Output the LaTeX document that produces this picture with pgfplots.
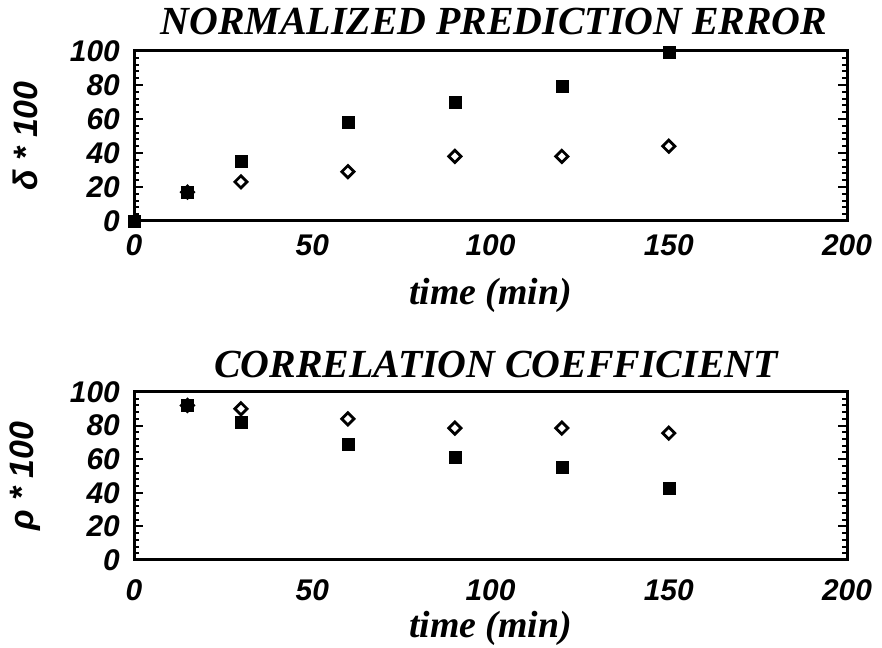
\documentclass[border=0pt]{standalone}
\usepackage{pgfplots}
\pgfplotsset{compat=1.18}
\usepackage{fontspec}
\setmainfont{Liberation Serif}
\newfontfamily\sansf{Liberation Sans}
\pgfplotstableread{
x y
0 0
15 17
30 35
60 58
90 70
120 79
150 99
}\errsq
\pgfplotstableread{
x y
15 17
30 23
60 29
90 38
120 38
150 44
}\errdi
\pgfplotstableread{
x y
15 92
30 82
60 69
90 61
120 55
150 43
}\corsq
\pgfplotstableread{
x y
15 92
30 90
60 84
90 78.5
120 78.5
150 75.5
}\cordi
\pgfplotsset{
  myax/.style={
    scale only axis, width=713bp,
    xmin=0, xmax=200, ymin=0, ymax=100,
    xtick={0,50,100,150,200},
    ytick={0,20,40,60,80,100},
    minor y tick num=4,
    axis line style={line width=3bp},
    every tick/.style={black, line width=2bp},
    major tick length=9bp, minor tick length=5bp,
    x tick style={draw=none},
    /pgf/number format/assume math mode=true,
    ticklabel style={font=\sansf\bfseries\itshape\fontsize{30}{32}\selectfont, inner sep=0pt},
    xticklabel style={anchor=center},
    yticklabel style={anchor=east, xshift=-14bp},
    xlabel style={font=\bfseries\itshape\fontsize{38}{42}\selectfont, anchor=center},
    ylabel style={font=\sansf\bfseries\itshape\fontsize{34}{38}\selectfont, anchor=center, at={(axis description cs:-0.153,0.5)}},
    xlabel={time (min)},
    clip=false,
  },
  sq/.style={only marks, mark=square*, mark size=6bp, black, mark options={fill=black}},
  di/.style={only marks, mark=square, mark size=4.3bp, black, mark options={line width=2.8bp, rotate=45}},
}
\begin{document}
\begin{tikzpicture}[x=1bp,y=1bp]
\path[use as bounding box] (0,0) rectangle (882,648);
\begin{axis}[myax, at={(134bp,427bp)}, anchor=south west, height=170bp,
  xticklabel style={yshift=-24bp},
  xlabel style={at={(axis description cs:0.5,-0.435)}},
  ylabel={δ * 100}]
\addplot[sq] table[x=x,y=y]{\errsq};
\addplot[di] table[x=x,y=y]{\errdi};
\end{axis}
\begin{axis}[myax, at={(134bp,88bp)}, anchor=south west, height=168bp,
  xticklabel style={yshift=-30bp},
  xlabel style={at={(axis description cs:0.5,-0.405)}},
  ylabel={ρ * 100}]
\addplot[di] table[x=x,y=y]{\cordi};
\addplot[sq] table[x=x,y=y]{\corsq};
\end{axis}
\node[anchor=base, inner sep=0pt, font=\bfseries\itshape\fontsize{40}{44}\selectfont] at (494,613) {NORMALIZED PREDICTION ERROR};
\node[anchor=base, inner sep=0pt, font=\bfseries\itshape\fontsize{40}{44}\selectfont] at (496,270) {CORRELATION COEFFICIENT};
\end{tikzpicture}
\end{document}
